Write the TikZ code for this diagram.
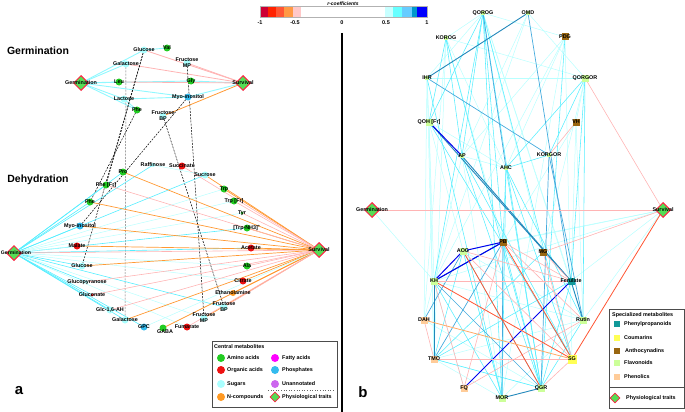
\documentclass[tikz,border=0pt]{standalone}
\usepackage{fontspec}
\setmainfont{Liberation Sans}
\usetikzlibrary{shapes.geometric}
\pgfdeclarelayer{bg}
\pgfsetlayers{bg,main}
\definecolor{cAA}{HTML}{22CC22}
\definecolor{cOA}{HTML}{EE1111}
\definecolor{cSU}{HTML}{AAFFFF}
\definecolor{cNC}{HTML}{FF9922}
\definecolor{cFA}{HTML}{FF00FF}
\definecolor{cPH}{HTML}{33BBEE}
\definecolor{cUN}{HTML}{CC66EE}
\definecolor{dGr}{HTML}{55DD55}
\definecolor{dRd}{HTML}{FF2244}
\definecolor{eLC}{HTML}{B8FFFF}
\definecolor{eCY}{HTML}{55EEFF}
\definecolor{eBL}{HTML}{44AADD}
\definecolor{eTB}{HTML}{2288BB}
\definecolor{eDB}{HTML}{0000EE}
\definecolor{ePK}{HTML}{FFB4B4}
\definecolor{eOR}{HTML}{FF5533}
\definecolor{eOG}{HTML}{FF9933}
\definecolor{eLO}{HTML}{FFAA66}
\definecolor{sPP}{HTML}{119999}
\definecolor{sCO}{HTML}{FFFF55}
\definecolor{sAN}{HTML}{996611}
\definecolor{sFL}{HTML}{CCFF99}
\definecolor{sPH}{HTML}{FFCC99}
\definecolor{bR1}{HTML}{CC0033}
\definecolor{bR2}{HTML}{FF2200}
\definecolor{bR3}{HTML}{FF5533}
\definecolor{bR4}{HTML}{FF9944}
\definecolor{bR5}{HTML}{FFC8C8}
\definecolor{bB1}{HTML}{C8FFFF}
\definecolor{bB2}{HTML}{66FFFF}
\definecolor{bB3}{HTML}{66CCFF}
\definecolor{bB4}{HTML}{0099CC}
\definecolor{bB5}{HTML}{0000FF}
\tikzset{
  lbl/.style={font=\fontsize{5.4}{5.9}\selectfont\bfseries, inner sep=0pt, align=center},
  ttl/.style={font=\fontsize{10.5}{11}\selectfont\bfseries, inner sep=0pt},
  pan/.style={font=\fontsize{15}{15}\selectfont\bfseries, inner sep=0pt},
  met/.style={circle, minimum size=7pt, inner sep=0pt},
  trait/.style={diamond, draw=dRd, fill=dGr, line width=1pt, minimum size=15pt, inner sep=0pt},
  sq/.style={rectangle, minimum size=7pt, inner sep=0pt},
  sqs/.style={rectangle, minimum size=4.5pt, inner sep=0pt},
  elc/.style={draw=eLC, line width=0.5pt},
  ecy/.style={draw=eCY, line width=0.7pt},
  ebl/.style={draw=eBL, line width=0.7pt},
  etb/.style={draw=eTB, line width=0.9pt},
  edb/.style={draw=eDB, line width=1pt},
  epk/.style={draw=ePK, line width=0.6pt},
  eor/.style={draw=eOR, line width=0.8pt},
  eog/.style={draw=eOG, line width=0.8pt},
  elo/.style={draw=eLO, line width=0.8pt},
  dsh/.style={draw=black, line width=0.5pt, dash pattern=on 2pt off 1.2pt},
  legbox/.style={draw=black!70, line width=0.6pt},
}
\newcommand{\mcirc}[4]{\node[met,fill=#2] (#1) at (#3) {};\node[lbl] at (#1) {#4};}
\newcommand{\msq}[4]{\node[sq,fill=#2] (#1) at (#3) {};\node[lbl] at (#1) {#4};}
\newcommand{\msqs}[4]{\node[sqs,fill=#2] (#1) at (#3) {};\node[lbl] at (#1) {#4};}
\begin{document}
\begin{tikzpicture}[x=1pt,y=-1pt]
\useasboundingbox (0,0) rectangle (685,412);
% ---------- colour bar ----------
\node[font=\fontsize{5}{5}\selectfont\bfseries\itshape, inner sep=0pt] (cbt) at (343,3.3) {r-coefficients};
\fill[bR1] (260,6) rectangle (268,17);
\fill[bR2] (268,6) rectangle (276,17);
\fill[bR3] (276,6) rectangle (284,17);
\fill[bR4] (284,6) rectangle (293,17);
\fill[bR5] (293,6) rectangle (301,17);
\fill[bB1] (385,6) rectangle (393,17);
\fill[bB2] (393,6) rectangle (402,17);
\fill[bB3] (402,6) rectangle (412,17);
\fill[bB4] (412,6) rectangle (417,17);
\fill[bB5] (417,6) rectangle (427,17);
\draw[black!30, line width=0.3pt] (260,6) rectangle (427,17);
\foreach \xx/\tt in {260/-1, 295/-0.5, 342/0, 386/0.5, 427/1}
  \node[lbl, font=\fontsize{5.5}{6}\selectfont\bfseries] at (\xx,22.5) {\tt};
% divider
\draw[line width=1.2pt] (342,33) -- (342,412);
% ---------- panel a : germination ----------
\node[ttl] (tg) at (38,51) {Germination};
\node[ttl] (td) at (38,180) {Dehydration};
\node[pan] (pa) at (19,391) {a};
\node[trait] (gGerm) at (81,83) {};\node[lbl] at (gGerm) {Germination};
\node[trait] (gSurv) at (243,83) {};\node[lbl] at (gSurv) {Survival};
\mcirc{gGlc}{cSU}{144,50}{Glucose}
\mcirc{gVal}{cAA}{167,48}{Val}
\mcirc{gGal}{cSU}{126,64}{Galactose}
\node[met,fill=cSU] (gFMP) at (187,63) {};\node[lbl] at (gFMP) {Fructose\\MP};
\mcirc{gLeu}{cAA}{119,82}{Leu}
\mcirc{gGly}{cAA}{191,81}{Gly}
\mcirc{gLac}{cSU}{124,99}{Lactose}
\mcirc{gMyo}{cPH}{188,97}{Myo-inositol}
\mcirc{gPhe}{cAA}{137,110}{Phe}
\node[met,fill=cSU] (gFBP) at (163,116) {};\node[lbl] at (gFBP) {Fructose\\BP};
% ---------- panel a : dehydration ----------
\node[trait] (dGerm) at (14,253) {};\node[lbl, font=\fontsize{5.1}{5.5}\selectfont\bfseries] at (16,253) {Germination};
\node[trait] (dSurv) at (319,250) {};\node[lbl] at (dSurv) {Survival};
\node[met,fill=cSU,minimum size=4pt] (dRaf) at (153,165) {};\node[lbl] at (dRaf) {Raffinose};
\mcirc{dSuc}{cOA}{182,166}{Succinate}
\mcirc{dPro}{cAA}{123,172}{Pro}
\mcirc{dPheFr}{cAA}{106,185}{Phe [Fr]}
\mcirc{dSucr}{cSU}{205,175}{Sucrose}
\mcirc{dTrp}{cAA}{224,189}{Trp}
\mcirc{dTrpFr}{cAA}{234,201}{Trp [Fr]}
\node[met,fill=cAA,minimum size=3pt] (dTyr) at (242,213) {};\node[lbl] at (dTyr) {Tyr};
\mcirc{dTrpNH}{cAA}{247,228}{[Trp-NH3]\textsuperscript{+}}
\mcirc{dPhe}{cAA}{90,202}{Phe}
\mcirc{dMyo}{cPH}{80,226}{Myo-inositol}
\mcirc{dAce}{cOA}{251,248}{Acetate}
\mcirc{dMal}{cOA}{77,246}{Malate}
\mcirc{dAla}{cAA}{247,266}{Ala}
\mcirc{dGlc}{cSU}{82,266}{Glucose}
\mcirc{dCit}{cOA}{243,281}{Citrate}
\node[met,fill=cSU,minimum size=3pt] (dGlp) at (87,282) {};\node[lbl] at (dGlp) {Glucopyranose};
\node[met,fill=cNC,minimum size=6pt] (dEth) at (233,293) {};\node[lbl] at (dEth) {Ethanolamine};
\node[met,fill=cOA,minimum size=3pt] (dGln) at (92,295) {};\node[lbl] at (dGln) {Gluconate};
\node[met,fill=cSU] (dFBP) at (224,307) {};\node[lbl] at (dFBP) {Fructose\\BP};
\mcirc{dGlcAH}{cSU}{110,310}{Glc-1,6-AH}
\node[met,fill=cSU] (dFMP) at (204,318) {};\node[lbl] at (dFMP) {Fructose\\MP};
\mcirc{dGal}{cSU}{125,320}{Galactose}
\mcirc{dGPC}{cPH}{144,327}{GPC}
\mcirc{dFum}{cOA}{187,327}{Fumarate}
\node[met,fill=cAA] (dGABA) at (163,328) {};\node[lbl] at (165,332) {GABA};
% ---------- panel b nodes ----------
\node[pan] (pb) at (363,392) {b};
\msqs{rQOROG}{sFL}{483,13}{QOROG}
\msqs{rOMD}{sFL}{528,13}{OMD}
\msqs{rKOROG}{sFL}{446,38}{KOROG}
\msq{rPDG}{sAN}{565,37}{PDG}
\msqs{rIHR}{sFL}{427,78}{IHR}
\msq{rQORGOR}{sFL}{585,78}{QORGOR}
\msq{rQOH}{sFL}{429,122}{QOH [Fr]}
\msq{rVH}{sAN}{576,122}{VH}
\msqs{rAP}{sFL}{462,156}{AP}
\msqs{rAHC}{sFL}{506,168}{AHC}
\msqs{rKORGOR}{sFL}{549,155}{KORGOR}
\node[trait] (rGerm) at (372,210) {};\node[lbl] at (rGerm) {Germination};
\node[trait] (rSurv) at (663,210) {};\node[lbl] at (rSurv) {Survival};
\msq{rPB}{sAN}{503,242}{PB}
\msq{rAOG}{sFL}{463,251}{AOG}
\msq{rMG}{sAN}{543,252}{MG}
\msq{rKH}{sFL}{434,281}{KH}
\msq{rFer}{sPP}{571,281}{Ferulate}
\msq{rDAH}{sPH}{424,320}{DAH}
\msq{rRut}{sFL}{583,320}{Rutin}
\msq{rTMO}{sPH}{434,359}{TMO}
\node[sq,fill=sCO,minimum size=9pt] (rSG) at (572,359) {};\node[lbl] at (rSG) {SG};
\msq{rFQ}{sPH}{464,388}{FQ}
\msq{rQGR}{sFL}{541,388}{QGR}
\msq{rMOR}{sFL}{502,398}{MOR}
% ---------- edges ----------
\begin{pgfonlayer}{bg}
\foreach \a/\b in {gGerm/gGal, gGerm/gGlc, gGerm/gLeu, gGerm/gGly, gGerm/gMyo, gGerm/gLac, gGerm/gPhe, gGlc/gVal, gMyo/gSurv, gLac/gPhe, gGly/gSurv, gLac/gMyo}
  \draw[ecy, draw=eLC!60!eCY, line width=0.9pt] (\a.center) -- (\b.center);
\foreach \a/\b in {gSurv/gGlc, gSurv/gGal, gSurv/gLeu, gSurv/gFMP}
  \draw[epk, line width=0.8pt] (\a.center) -- (\b.center);
\draw[eog] (gSurv.center) -- (gFBP.center);
\foreach \a/\b in {gGlc/dGlc, gPhe/dPhe, gMyo/dMyo, gFMP/dFMP, gFBP/dFBP, gGlc/dPheFr}
  \draw[dsh] (\a.center) -- (\b.center);
\draw[dsh, draw=black!55] (gGal.center) -- (dGal.center);
\foreach \b in {dPro, dPheFr, dPhe, dMyo, dGlc, dGlp, dGln, dGlcAH, dGal, dGPC, dSucr, dRaf, dFBP, dTrpNH, dAce}
  \draw[ecy, line width=0.6pt] (dGerm.center) -- (\b.center);
\foreach \b in {dMal, dCit, dAla, dTyr, dFMP, dTrpFr, dTrp, dFum}
  \draw[elc] (dGerm.center) -- (\b.center);
\draw[epk] (dGerm.center) -- (dSurv.center);
\foreach \b in {dPro, dPhe, dMyo, dMal, dGlc, dGal, dGABA, dTrp, dSucr, dAce, dEth, dFMP, dCit, dTrpNH}
  \draw[eog, line width=0.7pt] (dSurv.center) -- (\b.center);
\foreach \b in {dPheFr, dSuc, dTrpFr, dTyr, dAla, dGln, dGlcAH, dFBP, dGlp, dFum}
  \draw[epk] (dSurv.center) -- (\b.center);
\draw[elc] (dSurv.center) -- (dGPC.center);
\draw[elc] (dRaf.center) -- (dSucr.center);
\foreach \a/\b in {rQOROG/rKOROG, rQOROG/rIHR, rQOROG/rPDG, rQOROG/rMG, rQOROG/rFer, rQOROG/rRut, rOMD/rQORGOR, rOMD/rAP, rKOROG/rQORGOR, rKOROG/rAHC, rKOROG/rDAH, rKOROG/rTMO, rPDG/rKH, rPDG/rAHC, rPDG/rSG, rPDG/rAP, rIHR/rQORGOR, rIHR/rQOH, rIHR/rTMO, rQORGOR/rVH, rQORGOR/rMG, rQOH/rKH, rQOH/rTMO, rQOH/rMOR, rQOH/rAHC, rVH/rRut, rVH/rFer, rVH/rPB, rAP/rAHC, rAP/rKH, rAP/rMOR, rGerm/rKH, rSurv/rPB, rSurv/rAOG, rSurv/rKH, rSurv/rFer, rSurv/rRut, rDAH/rQGR, rDAH/rKH, rTMO/rRut, rTMO/rQGR, rKH/rRut, rFQ/rKH, rAOG/rRut, rMOR/rRut, rMOR/rTMO, rIHR/rDAH, rKOROG/rPB, rPDG/rMOR, rOMD/rKH}
  \draw[elc] (\a.center) -- (\b.center);
\foreach \a/\b in {rQOROG/rQOH, rQOROG/rAP, rQOROG/rPB, rQOROG/rKH, rQOROG/rSG, rQOROG/rQGR, rQOROG/rMOR, rKOROG/rAP, rKOROG/rQOH, rKOROG/rQGR, rQORGOR/rRut, rQORGOR/rFer, rQORGOR/rKORGOR, rQORGOR/rAHC, rAP/rQGR, rAP/rSG, rAHC/rKORGOR, rAHC/rQGR, rAHC/rSG, rAHC/rMOR, rAHC/rRut, rPB/rMOR, rPB/rQGR, rAOG/rQGR, rAOG/rMOR, rKH/rMOR, rFer/rQGR, rFer/rTMO, rRut/rQGR, rTMO/rQGR, rQOH/rSG, rPDG/rQGR, rAHC/rPB, rIHR/rMOR, rAOG/rTMO, rMG/rTMO}
  \draw[ecy, line width=0.55pt] (\a.center) -- (\b.center);
\foreach \a/\b in {rQOROG/rAHC, rOMD/rFer, rIHR/rKORGOR, rKORGOR/rQGR, rKH/rQGR, rPB/rTMO, rAOG/rDAH, rRut/rKORGOR, rMOR/rPB}
  \draw[ebl] (\a.center) -- (\b.center);
\foreach \a/\b in {rOMD/rIHR, rQOH/rFer, rAP/rFer, rKH/rTMO, rFer/rRut, rMOR/rQGR, rPB/rKH}
  \draw[etb] (\a.center) -- (\b.center);
\foreach \a/\b in {rQOH/rAP, rPB/rAOG, rPB/rKH, rAOG/rKH, rFer/rFQ}
  \draw[edb] (\a.center) -- (\b.center);
\foreach \a/\b in {rQORGOR/rSurv, rVH/rKORGOR, rGerm/rSurv, rSurv/rMG, rPB/rFer, rPB/rRut, rPB/rFQ, rAOG/rFer, rMG/rFer, rKH/rFer, rRut/rFQ, rTMO/rSG, rSG/rQGR, rKH/rFQ, rAOG/rSG, rMG/rSG, rDAH/rTMO}
  \draw[epk] (\a.center) -- (\b.center);
\foreach \a/\b in {rSurv/rSG, rKH/rSG, rPB/rSG, rAOG/rQGR}
  \draw[eor] (\a.center) -- (\b.center);
\draw[elo] (rDAH.center) -- (rSG.center);
\end{pgfonlayer}
% ---------- legend a ----------
\draw[legbox] (212,341) rectangle (337,407);
\node[lbl, anchor=west] (la0) at (214,347) {Central metabolites};
\node[met,fill=cAA,minimum size=8pt] (la1) at (221,358) {};\node[lbl,anchor=west] at (227,358) {Amino acids};
\node[met,fill=cOA,minimum size=8pt] (la2) at (221,370) {};\node[lbl,anchor=west] at (227,370) {Organic acids};
\node[met,fill=cSU,minimum size=8pt] (la3) at (221,384) {};\node[lbl,anchor=west] at (227,384) {Sugars};
\node[met,fill=cNC,minimum size=8pt] (la4) at (221,397) {};\node[lbl,anchor=west] at (227,397) {N-compounds};
\node[met,fill=cFA,minimum size=8pt] (la5) at (275,358) {};\node[lbl,anchor=west] at (282,358) {Fatty acids};
\node[met,fill=cPH,minimum size=8pt] (la6) at (275,370) {};\node[lbl,anchor=west] at (282,370) {Phosphates};
\node[met,fill=cUN,minimum size=8pt] (la7) at (275,384) {};\node[lbl,anchor=west] at (282,384) {Unannotated};
\coordinate (ld1) at (268,390);\coordinate (ld2) at (335,390);
\draw[black!60, dotted, line width=0.6pt] (ld1) -- (ld2);
\node[trait, minimum size=10pt, line width=0.8pt] (la8) at (275,397) {};\node[lbl,anchor=west] at (282,397) {Physiological traits};
% ---------- legend b ----------
\draw[legbox] (609,309) rectangle (684.5,408);
\node[lbl, anchor=west] (lb0) at (612,315) {Specialized metabolites};
\node[sq,fill=sPP,minimum size=6pt] (lb1) at (617,324) {};\node[lbl,anchor=west] at (624,324) {Phenylpropanoids};
\node[sq,fill=sCO,minimum size=6pt] (lb2) at (617,338) {};\node[lbl,anchor=west] at (624,338) {Coumarins};
\node[sq,fill=sAN,minimum size=6pt] (lb3) at (617,351) {};\node[lbl,anchor=west] at (625,351) {Anthocynadins};
\node[sq,fill=sFL,minimum size=6pt] (lb4) at (617,363) {};\node[lbl,anchor=west] at (624,363) {Flavonoids};
\node[sq,fill=sPH,minimum size=6pt] (lb5) at (617,377) {};\node[lbl,anchor=west] at (624,377) {Phenolics};
\coordinate (le1) at (609,387);\coordinate (le2) at (684.5,387);
\draw[black!70, line width=0.5pt] (le1) -- (le2);
\node[trait, minimum size=10pt, line width=0.8pt] (lb6) at (615,398) {};\node[lbl,anchor=west] at (626,398) {Physiological traits};
\end{tikzpicture}
\end{document}
